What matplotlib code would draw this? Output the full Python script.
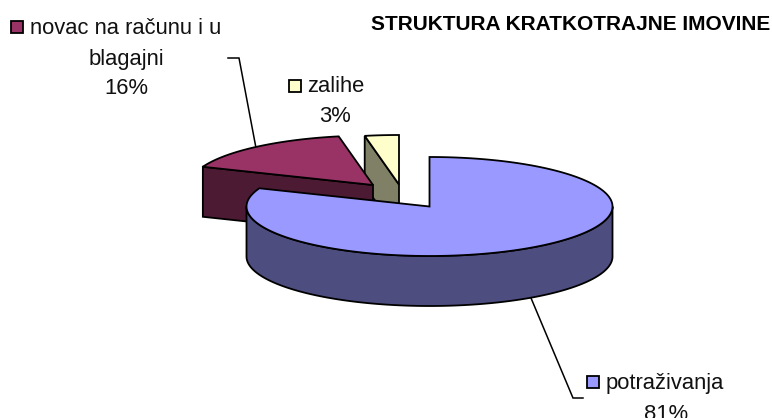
import matplotlib
matplotlib.use("Agg")
import matplotlib.pyplot as plt
from matplotlib.patches import Polygon, Rectangle
import numpy as np

plt.rcParams["font.family"] = ["Liberation Sans", "DejaVu Sans"]

title = "STRUKTURA KRATKOTRAJNE IMOVINE"
categories = ["potraživanja", "novac na računu i u\nblagajni", "zalihe"]
shares = [81, 16, 3]

top_colors = ["#9999FF", "#993366", "#FFFFCC"]
side_colors = ["#4D4D80", "#4D1A33", "#808066"]

# pie geometry in pixels, y pointing down
rx = 183
ry = 49.5
depth = 50
centers = [(429.5, 206.5), (373, 185), (399, 184.5)]

fig = plt.figure(figsize=(7.72, 4.18), dpi=100)
ax = fig.add_axes([0, 0, 1, 1])
ax.set_xlim(0, 772)
ax.set_ylim(418, 0)
ax.axis("off")


def rim(center, a0, a1):
    # angles clockwise from 12 o'clock, like excel
    t = np.radians(np.linspace(a0, a1, 200))
    return np.column_stack([center[0] + rx * np.sin(t), center[1] - ry * np.cos(t)])


def poly(points, color, z):
    ax.add_patch(Polygon(points, closed=True, facecolor=color, edgecolor="black",
                         linewidth=1.3, joinstyle="miter", zorder=z))


# slice angles come from the shares
ends = np.cumsum(shares) / np.sum(shares) * 360
starts = np.concatenate([[0], ends[:-1]])

# back slices first so the big one sits on top
for i in [2, 1, 0]:
    c = centers[i]
    z = 2 * (3 - i)
    a0, a1 = starts[i], ends[i]
    if i == 0:
        # outer wall, only the part turned to the viewer
        wall = rim(c, 90, min(a1, 270))
        poly(np.vstack([wall, (wall + [0, depth])[::-1]]), side_colors[i], z)
    else:
        # cut face on the clockwise-start side
        edge = rim(c, a0, a0)[0]
        p = np.array([edge, c, (c[0], c[1] + depth), (edge[0], edge[1] + depth)])
        poly(p, side_colors[i], z)
    top = np.vstack([[c], rim(c, a0, a1)])
    poly(top, top_colors[i], z + 1)

# leader lines
ax.plot([228, 239, 256], [58, 58, 148], color="black", lw=1.1, zorder=1, solid_joinstyle="miter")
ax.plot([531, 573, 583], [298, 398, 398], color="black", lw=1.1, zorder=1, solid_joinstyle="miter")

# title and data labels
ax.text(570.5, 25, title, ha="center", va="center", fontsize=15, fontweight="bold")

key_pos = [(586.5, 375.5), (10.5, 21), (288.5, 79.5)]
label_pos = [(664.5, 384), (125.5, 29), (335.5, 87)]
pct_pos = [(666, 414), (126, 88), (335.5, 116)]
for i in range(3):
    ax.add_patch(Rectangle(key_pos[i], 12, 12, facecolor=top_colors[i], edgecolor="black",
                           linewidth=1.3, zorder=5))
    if i == 1:
        first, second = categories[i].split("\n")
        ax.text(125.5, label_pos[i][1], first, ha="center", va="center", fontsize=15.8, color="#111111")
        ax.text(126, 59, second, ha="center", va="center", fontsize=15.8, color="#111111")
    else:
        ax.text(label_pos[i][0], label_pos[i][1], categories[i], ha="center", va="center",
                fontsize=15.8, color="#111111")
    ax.text(pct_pos[i][0], pct_pos[i][1], f"{shares[i]}%", ha="center", va="center",
            fontsize=15.8, color="#111111")

fig.savefig("out.png", dpi=100)
